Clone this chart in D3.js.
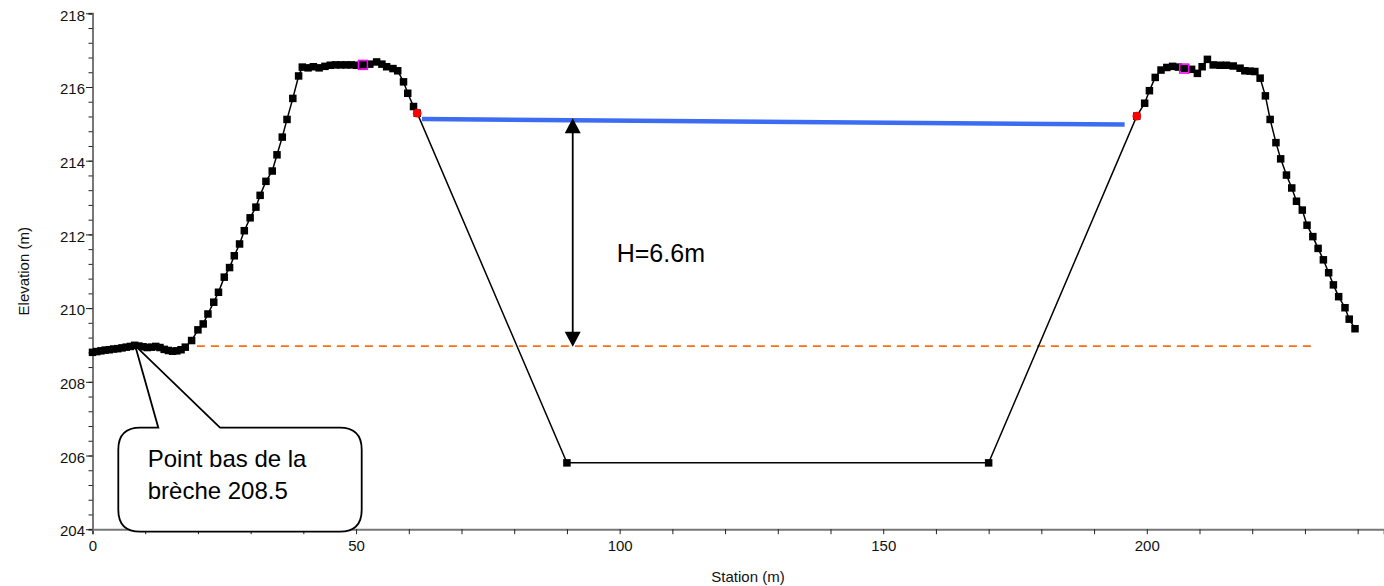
<!DOCTYPE html>
<html>
<head>
<meta charset="utf-8">
<script src="https://cdn.jsdelivr.net/npm/d3@7"></script>
<style>
  html, body { margin: 0; padding: 0; background: #fff; }
  svg { display: block; font-family: "Liberation Sans", Arial, sans-serif; }
</style>
</head>
<body>
<svg width="1384" height="586"></svg>
<script>
// cross-section profile (station m, elevation m)
const stations = [
  0, 0.8, 1.6, 2.4, 3.2, 4.0, 4.8, 5.6, 6.4, 7.2, 8.0, 8.8, 9.6, 10.4, 11.2, 12.0,
  12.8, 13.6, 14.4, 15.2, 16.0, 16.8, 17.6, 18.8, 20.0, 21.0, 21.9, 23.0, 23.9, 25.0,
  26.0, 26.9, 27.9, 28.8, 29.9, 31.0, 31.8, 32.9, 34.1, 35.0, 36.0, 36.9, 38.0, 39.1,
  39.8, 40.9, 41.9, 43.0, 44.1, 45.1, 46.1, 47.1, 48.1, 49.1, 50.1, 51.3, 52.6, 53.9,
  54.9, 55.8, 57.0, 57.9, 59.0, 59.8, 60.9, 61.6,
  90, 170,
  198.1, 199.6, 200.5, 201.6, 202.7, 203.8, 204.9, 206.0, 207.1, 208.5, 209.6, 210.5,
  211.5, 212.6, 213.9, 215.1, 216.4, 217.7, 218.6, 219.6, 220.5, 221.5, 222.5, 223.4,
  224.5, 225.4, 226.5, 227.5, 228.4, 229.5, 230.4, 231.5, 232.5, 233.5, 234.5, 235.4,
  236.4, 237.6, 238.4, 239.5
];
const elevations = [
  208.80, 208.82, 208.84, 208.86, 208.87, 208.89, 208.90, 208.92, 208.94, 208.96, 208.99,
  208.97, 208.95, 208.93, 208.94, 208.96, 208.93, 208.88, 208.85, 208.83, 208.84, 208.87,
  208.94, 209.12, 209.41, 209.57, 209.84, 210.16, 210.43, 210.84, 211.10, 211.42, 211.74,
  212.10, 212.45, 212.74, 213.06, 213.44, 213.72, 214.16, 214.64, 215.12, 215.69, 216.30,
  216.54, 216.52, 216.55, 216.52, 216.56, 216.59, 216.60, 216.60, 216.60, 216.60, 216.59,
  216.60, 216.62, 216.68, 216.62, 216.55, 216.50, 216.44, 216.14, 215.83, 215.47, 215.29,
  205.80, 205.80,
  215.21, 215.56, 215.90, 216.26, 216.46, 216.53, 216.56, 216.54, 216.50, 216.48, 216.37,
  216.55, 216.75, 216.60, 216.59, 216.59, 216.57, 216.51, 216.44, 216.43, 216.42, 216.24,
  215.76, 215.12, 214.49, 214.05, 213.61, 213.26, 212.90, 212.66, 212.25, 211.94, 211.62,
  211.31, 210.96, 210.63, 210.31, 210.01, 209.70, 209.44
];

const bankStations = [61.6, 198.1];
const bankElevations = [215.29, 215.21];
const leveeStations = [51.3, 207.1];
const leveeElevations = [216.60, 216.50];

const waterStations = [62.5, 195.8];
const waterElevations = [215.13, 214.98];

const breachStations = [19.8, 231.3];
const breachElevations = [208.97, 208.97];

const heightStation = 91.1;
const heightElevations = [215.15, 208.95];
const heightLabel = "H=6.6m";

const calloutTarget = [8.1, 208.98];
const calloutLines = ["Point bas de la", "brèche 208.5"];

const xMajorTicks = [0, 50, 100, 150, 200];
const xMinorTicks = d3.range(0, 241, 10);
const yMajorTicks = [204, 206, 208, 210, 212, 214, 216, 218];
const yMinorTicks = d3.range(0, 36).map(i => +(204 + i * 0.4).toFixed(1));

const svg = d3.select("svg");
const x = d3.scaleLinear().domain([0, 245]).range([92.5, 1384]);
const y = d3.scaleLinear().domain([204, 218]).range([529.2, 13.3]);

const axisColor = "#777";
const labelSize = 15;

// axes
const gx = svg.append("g").attr("transform", `translate(0,${y(204)})`);
gx.call(d3.axisBottom(x).tickValues(xMinorTicks).tickSize(5).tickFormat(""));
gx.call(g => g.select(".domain").attr("stroke", axisColor).attr("stroke-width", 2));
gx.selectAll(".tick line").attr("stroke", "#222");
const gxl = svg.append("g").attr("transform", `translate(0,${y(204)})`)
  .call(d3.axisBottom(x).tickValues(xMajorTicks).tickSize(0).tickPadding(11).tickFormat(d3.format("d")));
gxl.select(".domain").remove();
gxl.selectAll("text").attr("font-size", labelSize).attr("fill", "#111").attr("font-family", null);

const gy = svg.append("g").attr("transform", `translate(${x(0)},0)`);
gy.call(d3.axisLeft(y).tickValues(yMinorTicks).tickSize(4).tickFormat(""));
gy.call(g => g.select(".domain").attr("stroke", axisColor).attr("stroke-width", 2));
gy.selectAll(".tick line").attr("stroke", "#222");
const gyl = svg.append("g").attr("transform", `translate(${x(0)},0)`)
  .call(d3.axisLeft(y).tickValues(yMajorTicks).tickSize(6.5).tickPadding(1).tickFormat(d3.format("d")));
gyl.select(".domain").remove();
gyl.selectAll(".tick line").attr("stroke", "#222");
gyl.selectAll("text").attr("font-size", labelSize).attr("fill", "#111").attr("dy", "0.45em").attr("font-family", null);

svg.append("text")
  .attr("x", 748).attr("y", 582)
  .attr("text-anchor", "middle").attr("font-size", labelSize).attr("fill", "#111")
  .text("Station (m)");
svg.append("text")
  .attr("transform", `translate(29,${(y(204) + y(218)) / 2}) rotate(-90)`)
  .attr("text-anchor", "middle").attr("font-size", labelSize).attr("fill", "#111")
  .text("Elevation (m)");

// breach level (orange dashed)
svg.append("line")
  .attr("x1", x(breachStations[0])).attr("y1", y(breachElevations[0]))
  .attr("x2", x(breachStations[1])).attr("y2", y(breachElevations[1]))
  .attr("stroke", "#ff6d10").attr("stroke-width", 1.8).attr("stroke-dasharray", "8,6");

// water surface
svg.append("line")
  .attr("x1", x(waterStations[0])).attr("y1", y(waterElevations[0]))
  .attr("x2", x(waterStations[1])).attr("y2", y(waterElevations[1]))
  .attr("stroke", "#3b6cf2").attr("stroke-width", 4.5);

// ground profile
const pts = stations.map((s, i) => [s, elevations[i]]);
svg.append("path")
  .datum(pts)
  .attr("fill", "none").attr("stroke", "#000").attr("stroke-width", 1.5)
  .attr("d", d3.line().x(d => x(d[0])).y(d => y(d[1])));

svg.append("g").selectAll("rect")
  .data(pts)
  .join("rect")
  .attr("x", d => x(d[0]) - 3.75).attr("y", d => y(d[1]) - 3.75)
  .attr("width", 7.5).attr("height", 7.5).attr("fill", "#000");

svg.append("g").selectAll("rect")
  .data(leveeStations.map((s, i) => [s, leveeElevations[i]]))
  .join("rect")
  .attr("x", d => x(d[0]) - 4.5).attr("y", d => y(d[1]) - 4.5)
  .attr("width", 9).attr("height", 9)
  .attr("fill", "none").attr("stroke", "#ff00ff").attr("stroke-width", 1.5);

svg.append("g").selectAll("circle")
  .data(bankStations.map((s, i) => [s, bankElevations[i]]))
  .join("circle")
  .attr("cx", d => x(d[0])).attr("cy", d => y(d[1])).attr("r", 4.3)
  .attr("fill", "#ff0000");

// height arrow
const ax = x(heightStation);
const yTop = y(heightElevations[0]);
const yBot = y(heightElevations[1]);
const head = 15, halfW = 8;
svg.append("line")
  .attr("x1", ax).attr("x2", ax).attr("y1", yTop + head - 2).attr("y2", yBot - head + 2)
  .attr("stroke", "#000").attr("stroke-width", 1.8);
svg.append("path")
  .attr("d", `M${ax},${yTop} L${ax - halfW},${yTop + head} L${ax + halfW},${yTop + head} Z`)
  .attr("fill", "#000");
svg.append("path")
  .attr("d", `M${ax},${yBot} L${ax - halfW},${yBot - head} L${ax + halfW},${yBot - head} Z`)
  .attr("fill", "#000");
svg.append("text")
  .attr("x", ax + 44).attr("y", 262)
  .attr("font-size", 25).attr("fill", "#000")
  .text(heightLabel);

// callout
const bx0 = 118.3, bx1 = 361.7, by0 = 427.7, by1 = 531.7, r = 22;
const px0 = 158.3, px1 = 220;
const tx = x(calloutTarget[0]), ty = y(calloutTarget[1]);
const callout = d3.path();
callout.moveTo(bx0 + r, by0);
callout.lineTo(px0, by0);
callout.lineTo(tx, ty);
callout.lineTo(px1, by0);
callout.lineTo(bx1 - r, by0);
callout.quadraticCurveTo(bx1, by0, bx1, by0 + r);
callout.lineTo(bx1, by1 - r);
callout.quadraticCurveTo(bx1, by1, bx1 - r, by1);
callout.lineTo(bx0 + r, by1);
callout.quadraticCurveTo(bx0, by1, bx0, by1 - r);
callout.lineTo(bx0, by0 + r);
callout.quadraticCurveTo(bx0, by0, bx0 + r, by0);
callout.closePath();
svg.append("path")
  .attr("d", callout.toString())
  .attr("fill", "#fff").attr("stroke", "#000").attr("stroke-width", 1.8)
  .attr("stroke-linejoin", "miter");

svg.append("g").selectAll("text")
  .data(calloutLines)
  .join("text")
  .attr("x", 147.7).attr("y", (d, i) => 467.3 + i * 32)
  .attr("font-size", 24).attr("fill", "#000")
  .text(d => d);
</script>
</body>
</html>
